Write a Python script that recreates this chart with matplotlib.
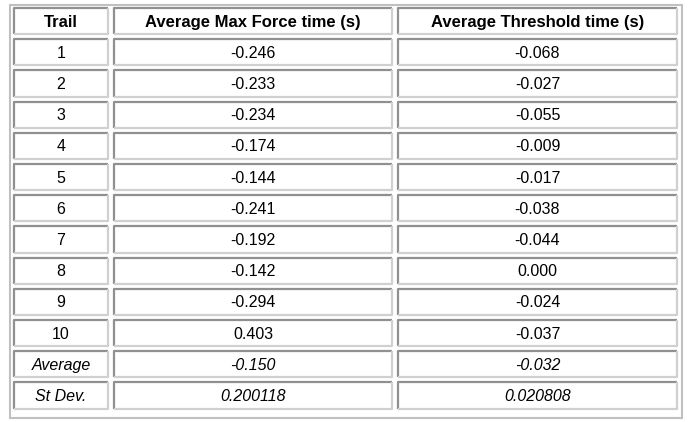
import matplotlib
matplotlib.use("Agg")
import matplotlib.pyplot as plt
from matplotlib.patches import Rectangle

headers = ["Trail", "Average Max Force time (s)", "Average Threshold time (s)"]
trails = ["1", "2", "3", "4", "5", "6", "7", "8", "9", "10"]
max_force = ["-0.246", "-0.233", "-0.234", "-0.174", "-0.144", "-0.241", "-0.192", "-0.142", "-0.294", "0.403"]
threshold = ["-0.068", "-0.027", "-0.055", "-0.009", "-0.017", "-0.038", "-0.044", "0.000", "-0.024", "-0.037"]
summary_labels = ["Average", "St Dev."]
summary_force = ["-0.150", "0.200118"]
summary_thresh = ["-0.032", "0.020808"]

W, H = 691, 422
fig = plt.figure(figsize=(W/100, H/100), dpi=100)
ax = fig.add_axes([0, 0, 1, 1])
ax.set_xlim(0, W); ax.set_ylim(H, 0); ax.axis("off")

ax.add_patch(Rectangle((10, 5), 672, 413, fill=False, ec="#c0c0c0", lw=1.5))
cols = [(14, 108), (114, 392), (398, 677)]
top, rh = 8, 31.2
rows = [headers] + [[t, a, b] for t, a, b in zip(trails, max_force, threshold)] + \
       [[l, a, b] for l, a, b in zip(summary_labels, summary_force, summary_thresh)]
for r, row in enumerate(rows):
    y0 = top + r*rh
    y1 = y0 + rh - 5
    for c, (x0, x1) in enumerate(cols):
        ax.plot([x0, x0, x1], [y1, y0, y0], color="#909090", lw=1.6, solid_capstyle="butt")
        ax.plot([x0, x1, x1], [y1, y1, y0], color="#d0d0d0", lw=1.6, solid_capstyle="butt")
        kw = dict(ha="center", va="center", fontsize=11.5, family="Liberation Sans", color="black")
        if r == 0:
            kw["fontweight"] = "bold"
            kw["fontsize"] = 12
        elif r > len(trails):
            kw["style"] = "italic"
        ax.text((x0+x1)/2, (y0+y1)/2 + 1, row[c], **kw)

fig.savefig("out.png", dpi=100, facecolor="white")
